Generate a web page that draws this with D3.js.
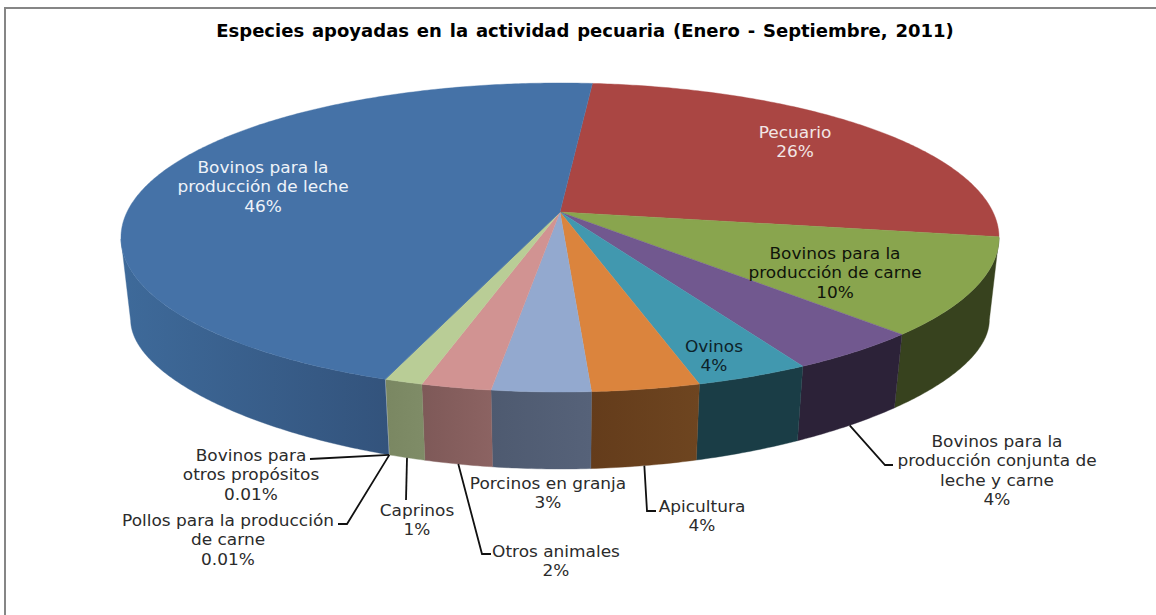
<!DOCTYPE html>
<html lang="es">
  <head>
    <meta charset="UTF-8" />
    <title>Especies apoyadas en la actividad pecuaria</title>
    <script src="https://d3js.org/d3.v7.min.js"></script>
    <style>
      body {
        margin: 0;
        background-color: #fff;
        font-family: "DejaVu Sans", sans-serif;
      }

      svg {
        display: block;
      }

      .title {
        font-size: 17px;
        font-weight: bold;
        fill: #000;
        text-anchor: middle;
        word-spacing: 1.5px;
      }

      .label {
        font-size: 15px;
        fill: #2b2b2b;
        text-anchor: middle;
      }

      .leader {
        fill: none;
        stroke: #111;
        stroke-width: 1.8px;
      }
    </style>
  </head>
  <body>
    <svg id="chart" width="1156" height="615"></svg>

    <script>
      const titleText =
        "Especies apoyadas en la actividad pecuaria (Enero - Septiembre, 2011)";

      const categories = [
        "Pecuario",
        "Bovinos para la producción de carne",
        "Bovinos para la producción conjunta de leche y carne",
        "Ovinos",
        "Apicultura",
        "Porcinos en granja",
        "Otros animales",
        "Caprinos",
        "Pollos para la producción de carne",
        "Bovinos para otros propósitos",
        "Bovinos para la producción de leche",
      ];
      const values = [26.2, 10.2, 4.3, 3.6, 3.4, 3.1, 2.2, 1.2, 0.01, 0.01, 45.9];
      const percentLabels = [
        "26%", "10%", "4%", "4%", "4%", "3%", "2%", "1%", "0.01%", "0.01%", "46%",
      ];

      const topColors = [
        "#aa4643", "#89a54e", "#71588f", "#4198af", "#db843d", "#93a9cf",
        "#d19392", "#b9cd96", "#b9cd96", "#4572a7", "#4572a7",
      ];
      const sideColors = [
        ["#6b2b2a", "#6b2b2a"], ["#37421e", "#37421e"], ["#2c2238", "#2c2238"],
        ["#1a3d46", "#1a3d46"], ["#6e4520", "#643c1b"], ["#566279", "#4e5a70"],
        ["#8c6362", "#7e5958"], ["#7f8c67", "#7a8762"], ["#7f8c67", "#7f8c67"],
        ["#33537c", "#33537c"], ["#33537c", "#3e6a9a"],
      ];

      // how each label is broken and where it sits; leader = elbow points
      const labelLayout = [
        { lines: ["Pecuario"], x: 795, y: 138, fill: "#f2e6e6" },
        { lines: ["Bovinos para la", "producción de carne"], x: 835, y: 259, fill: "#10140a" },
        {
          lines: ["Bovinos para la", "producción conjunta de", "leche y carne"],
          x: 997, y: 447,
          leader: [[885, 465], [893, 465]],
        },
        { lines: ["Ovinos"], x: 714, y: 352, fill: "#0d2229" },
        { lines: ["Apicultura"], x: 702, y: 512, leader: [[647, 511], [656, 511]] },
        { lines: ["Porcinos en granja"], x: 548, y: 489 },
        { lines: ["Otros animales"], x: 556, y: 557, leader: [[482, 554], [491, 554]] },
        { lines: ["Caprinos"], x: 417, y: 516, leader: [[406, 500]] },
        {
          lines: ["Pollos para la producción", "de carne"],
          x: 228, y: 526,
          leader: [[347, 524], [338, 524]],
        },
        {
          lines: ["Bovinos para", "otros propósitos"],
          x: 251, y: 461,
          leader: [[310, 459]],
        },
        { lines: ["Bovinos para la", "producción de leche"], x: 263, y: 173, fill: "#eef3f9" },
      ];

      const svg = d3.select("#chart");
      const lineHeight = 19.3;
      const labelStretch = 1.13;
      const titleStretch = 1.06;

      // perspective of the pie: apex of the top face and the two rims
      const apex = { x: 560, y: 212 };
      const rx = 433, ry = 150.3, k = 0.165;
      const floor = { y: 299, ry: 119, k: 0.3, shrink: 0.978 };
      const startAngle = (5 * Math.PI) / 180;
      // side wall only shows between the two extremes of the ellipse
      const visibleFrom = (99.5 * Math.PI) / 180;
      const visibleTo = (260 * Math.PI) / 180;

      const topPoint = (a, r = 1) => {
        const w = 1 + k * r * Math.cos(a);
        return [
          apex.x + (rx * r * Math.sin(a)) / w,
          apex.y - (ry * r * Math.cos(a)) / w,
        ];
      };
      const floorPoint = (a) => {
        const w = 1 + floor.k * Math.cos(a);
        return [
          apex.x + (floor.shrink * rx * Math.sin(a)) / (1 + k * Math.cos(a)),
          floor.y - (floor.ry * Math.cos(a)) / w,
        ];
      };

      const angleSteps = (a0, a1) => {
        const n = Math.max(2, Math.ceil((a1 - a0) / 0.01));
        return d3.range(n + 1).map((i) => a0 + ((a1 - a0) * i) / n);
      };

      const pie = d3
        .pie()
        .sort(null)
        .value((d) => d)
        .startAngle(startAngle)
        .endAngle(startAngle + 2 * Math.PI);
      const slices = pie(values);
      const line = d3.line();

      // frame
      svg
        .append("path")
        .attr("d", "M5,615V8H1156")
        .attr("fill", "none")
        .attr("stroke", "#868686")
        .attr("stroke-width", 2);

      svg
        .append("text")
        .attr("class", "title")
        .attr("transform", `translate(585,37) scale(${titleStretch},1)`)
        .text(titleText);

      const defs = svg.append("defs");

      // side wall
      slices.forEach((d, i) => {
        const a0 = Math.max(d.startAngle, visibleFrom);
        const a1 = Math.min(d.endAngle, visibleTo);
        if (a1 <= a0 || d.value < 0.1) return;
        const steps = angleSteps(a0, a1);
        const pts = steps.map((a) => topPoint(a));
        const low = steps.map((a) => floorPoint(a)).reverse();
        const xs = pts.concat(low).map((p) => p[0]);

        const grad = defs
          .append("linearGradient")
          .attr("id", "side" + i)
          .attr("gradientUnits", "userSpaceOnUse")
          .attr("x1", d3.max(xs))
          .attr("x2", d3.min(xs))
          .attr("y1", 0)
          .attr("y2", 0);
        grad.append("stop").attr("offset", 0).attr("stop-color", sideColors[i][0]);
        grad.append("stop").attr("offset", 1).attr("stop-color", sideColors[i][1]);

        svg
          .append("path")
          .attr("d", line(pts.concat(low)) + "Z")
          .attr("fill", `url(#side${i})`)
          .attr("stroke", `url(#side${i})`)
          .attr("stroke-width", 0.4);
      });

      // top face
      slices.forEach((d, i) => {
        const pts = angleSteps(d.startAngle, d.endAngle).map((a) => topPoint(a));
        svg
          .append("path")
          .attr("d", line([topPoint(0, 0)].concat(pts)) + "Z")
          .attr("fill", topColors[i])
          .attr("stroke", topColors[i])
          .attr("stroke-width", 0.4);
      });

      // leader lines start on the lower rim, at the slice's middle angle
      slices.forEach((d, i) => {
        const layout = labelLayout[i];
        if (!layout.leader) return;
        const mid = (d.startAngle + d.endAngle) / 2;
        svg
          .append("path")
          .attr("class", "leader")
          .attr("d", line([floorPoint(mid)].concat(layout.leader)));
      });

      // labels
      slices.forEach((d, i) => {
        const layout = labelLayout[i];
        const text = svg
          .append("text")
          .attr("class", "label")
          .attr("transform", `translate(${layout.x},${layout.y}) scale(${labelStretch},1)`)
          .style("fill", layout.fill || null);
        layout.lines.concat(percentLabels[i]).forEach((t, j) => {
          text
            .append("tspan")
            .attr("x", 0)
            .attr("y", j * lineHeight)
            .text(t);
        });
      });
    </script>
  </body>
</html>
